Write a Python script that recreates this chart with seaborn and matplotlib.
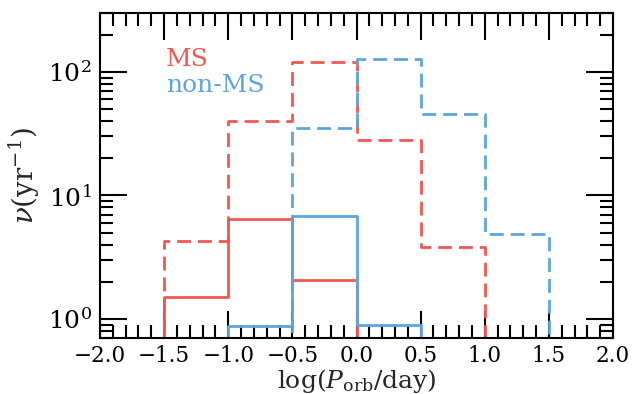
import numpy as np
import pandas as pd
import matplotlib
matplotlib.use("Agg")
import matplotlib.pyplot as plt
import seaborn as sns
from matplotlib.ticker import MultipleLocator, LogLocator, NullFormatter

# ---- data (rate per bin) ----
ms_edges = [-1.5, -1.0, -0.5, 0.0]
ms_rate = [1.5, 6.5, 2.05]

ms_all_edges = [-1.5, -1.0, -0.5, 0.0, 0.5, 1.0]
ms_all_rate = [4.3, 40.0, 121.0, 28.0, 3.8]

nms_edges = [-1.0, -0.5, 0.0, 0.5]
nms_rate = [0.87, 6.8, 0.90]

nms_all_edges = [-0.5, 0.0, 0.5, 1.0, 1.5]
nms_all_rate = [35.0, 127.0, 46.0, 4.9]

labels = ["MS", "non-MS"]
red = "#F15854"
blue = "#5DA5DA"

sns.set_style("ticks")
plt.rcParams["font.family"] = ["DejaVu Serif"]
plt.rcParams["mathtext.fontset"] = "dejavuserif"

fig = plt.figure(figsize=(6.42, 3.94), dpi=100)
ax = fig.add_axes([0.1558, 0.1421, 0.7990, 0.8249])

def draw(edges, rate, color, ls):
    # pad with one empty bin on each side so the step outline drops to the baseline
    w = 0.5
    e = [edges[0] - w] + list(edges) + [edges[-1] + w]
    r = [0.0] + list(rate) + [0.0]
    centers = [(a + b) / 2 for a, b in zip(e[:-1], e[1:])]
    df = pd.DataFrame({"x": centers, "w": r})
    sns.histplot(data=df, x="x", weights="w", bins=e, element="step",
                 fill=False, color=color, linewidth=2.0, linestyle=ls, ax=ax)

draw(ms_edges, ms_rate, red, "-")
draw(ms_all_edges, ms_all_rate, red, (0, (5, 2.5)))
draw(nms_edges, nms_rate, blue, "-")
draw(nms_all_edges, nms_all_rate, blue, (0, (5, 2.5)))

ax.set_yscale("log")
ax.set_xlim(-2.0, 2.0)
ax.set_ylim(0.7, 300)

ax.xaxis.set_major_locator(MultipleLocator(0.5))
ax.xaxis.set_minor_locator(MultipleLocator(0.1))
ax.yaxis.set_major_locator(LogLocator(base=10))
ax.yaxis.set_minor_locator(LogLocator(base=10, subs=np.arange(2, 10)))
ax.yaxis.set_minor_formatter(NullFormatter())

ax.tick_params(which="both", direction="in", top=True, right=True, width=1.5,
               colors="black")
ax.tick_params(axis="x", labelsize=15.5, pad=5)
ax.tick_params(axis="y", labelsize=18, pad=6)
ax.tick_params(which="major", length=19.5)
ax.tick_params(which="minor", length=9.5)
for s in ax.spines.values():
    s.set_linewidth(1.5)
    s.set_color("black")

ax.set_xlabel(r"$\log(P_{\rm orb}/{\rm day})$", fontsize=18, labelpad=0)
ax.set_ylabel(r"$\nu({\rm yr}^{-1})$", fontsize=20, labelpad=4)

ax.text(0.128, 0.836, labels[0], color=red, fontsize=18, transform=ax.transAxes)
ax.text(0.128, 0.758, labels[1], color=blue, fontsize=18, transform=ax.transAxes)

fig.savefig("out.png", dpi=100)
